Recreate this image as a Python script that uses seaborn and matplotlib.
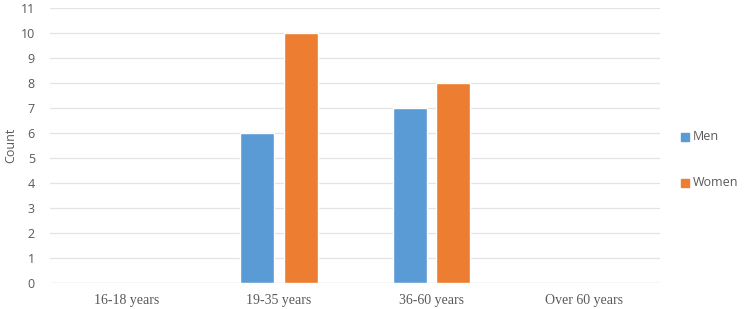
import matplotlib
matplotlib.use("Agg")
import matplotlib.pyplot as plt
import seaborn as sns
import pandas as pd

categories = ["16-18 years", "19-35 years", "36-60 years", "Over 60 years"]
men = [0, 6, 7, 0]
women = [0, 10, 8, 0]
series = ["Men", "Women"]
colors = ["#5B9BD5", "#ED7D31"]
yticks = list(range(0, 12))

df = pd.DataFrame({
    "Age": categories * 2,
    "Count": men + women,
    "Sex": ["Men"] * len(categories) + ["Women"] * len(categories),
})

sns.set_style("white")
plt.rcParams["font.family"] = ["Open Sans", "DejaVu Sans"]

fig = plt.figure(figsize=(7.5, 3.09), dpi=100)
ax = fig.add_axes([0.067, 0.084, 0.813, 0.89])

sns.barplot(data=df, x="Age", y="Count", hue="Sex", hue_order=series,
            palette=colors, width=0.57, gap=0.22, ax=ax, legend=False,
            saturation=1)

ax.set_ylim(0, 11)
ax.set_yticks(yticks)
ax.set_xlim(-0.5, len(categories) - 0.5)
ax.yaxis.grid(True, color="#E3E3E3", linewidth=0.9)
ax.set_axisbelow(True)
for s in ax.spines.values():
    s.set_visible(False)
ax.axhline(0, color="#E3E3E3", linewidth=1.0, zorder=0)

ax.tick_params(axis="both", length=0, colors="#595959")
ax.tick_params(axis="y", labelsize=9, pad=11)
ax.set_xticks(range(len(categories)))
ax.set_xticklabels(categories, family=["Liberation Serif"], fontsize=10)
ax.tick_params(axis="x", pad=8)
ax.set_xlabel("")
ax.set_ylabel("Count", fontsize=9, color="#595959")
ax.yaxis.set_label_coords((17 - 50) / 610, 0.5)

# legend
for i, (name, c) in enumerate(zip(series, colors)):
    fig.patches.append(plt.Rectangle((681 / 750, (309 - 141 - i * 46) / 309), 8 / 750, 8 / 309,
                                     transform=fig.transFigure, color=c, figure=fig))
    fig.text(693 / 750, (309 - 137 - i * 46) / 309, name, fontsize=9, color="#595959",
             va="center", ha="left")

fig.savefig("out.png", dpi=100)
